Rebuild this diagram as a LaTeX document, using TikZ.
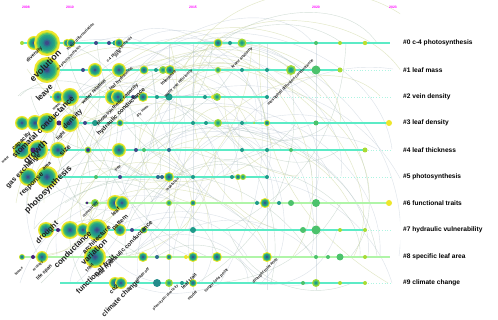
\documentclass[tikz,border=0pt]{standalone}
\usepackage{fontspec}
\setmainfont{Liberation Sans}
\definecolor{vyel}{HTML}{EEE62A}
\definecolor{vlime}{HTML}{A8DB34}
\definecolor{vgreen}{HTML}{4CC26C}
\definecolor{vteal}{HTML}{1F9A8A}
\definecolor{vblue}{HTML}{2F6C8E}
\definecolor{vind}{HTML}{3E4A89}
\definecolor{vpur}{HTML}{46247A}
\definecolor{rowline}{HTML}{5CEBC6}
\definecolor{rowlineb}{HTML}{B0F5A8}
\definecolor{yearc}{HTML}{FF00FF}
\definecolor{arcA}{HTML}{9FB8A8}
\definecolor{arcB}{HTML}{CFD8A0}
\definecolor{arcC}{HTML}{A8B8C8}
\definecolor{labc}{HTML}{202020}
\newcommand\ringnode[3]{%
  \fill[vyel] (#1,#2) circle[radius={#3pt}];
  \fill[vlime] (#1,#2) circle[radius={0.84*#3pt}];
  \fill[vgreen] (#1,#2) circle[radius={0.76*#3pt}];
  \fill[vteal!70!vgreen] (#1,#2) circle[radius={0.64*#3pt}];
  \fill[vteal] (#1,#2) circle[radius={0.52*#3pt}];
  \fill[vteal!70!vblue] (#1,#2) circle[radius={0.40*#3pt}];
  \fill[vblue] (#1,#2) circle[radius={0.28*#3pt}];
  \fill[vind] (#1,#2) circle[radius={0.16*#3pt}];}
\newcommand\gringnode[3]{%
  \fill[vlime] (#1,#2) circle[radius={#3pt}];
  \fill[vgreen] (#1,#2) circle[radius={0.7*#3pt}];
  \fill[vteal] (#1,#2) circle[radius={0.4*#3pt}];}
\newcommand\dotnode[4]{\fill[#4] (#1,#2) circle[radius={#3pt}];}
\tikzset{
  arc1/.style={draw=arcA, opacity=.45, line width=.4pt},
  arc2/.style={draw=arcB, opacity=.6, line width=.45pt},
  arc3/.style={draw=arcC, opacity=.4, line width=.4pt},
  rowl/.style={draw=rowline, line width=1.6pt},
  rowlb/.style={draw=rowlineb, line width=1.6pt},
  rowdot/.style={draw=rowline!50, line width=.8pt, dotted},
  kw/.style={rotate=45, anchor=west, inner sep=0pt, text=labc, font=\bfseries},
  clab/.style={anchor=west, inner sep=0pt, font=\bfseries\fontsize{6.6}{7}\selectfont, text=black},
  yr/.style={inner sep=0pt, text=yearc, font=\bfseries\fontsize{3.4}{4}\selectfont}
}
\newcommand\fs[1]{\fontsize{#1}{#1}\selectfont}
\begin{document}
\begin{tikzpicture}[x=1pt,y=-1pt]
\useasboundingbox (0,0) rectangle (498,320);
\fill[white] (0,0) rectangle (498,320);
% citation arcs
\begin{scope}
\clip (0,0) rectangle (400,300);
\pgfmathsetseed{11}
\foreach \i in {1,...,80}{
  \pgfmathtruncatemacro\xa{random(15,200)}
  \pgfmathtruncatemacro\xb{\xa+random(60,260)}
  \pgfmathtruncatemacro\ya{43+26.7*random(0,9)}
  \pgfmathtruncatemacro\yb{43+26.7*random(0,9)}
  \pgfmathtruncatemacro\bd{random(45,80)}
  \pgfmathtruncatemacro\cc{random(1,3)}
  \draw[arc\cc] (\xa,\ya) to[bend left=\bd] (\xb,\yb);
}
\foreach \i in {1,...,50}{
  \pgfmathtruncatemacro\xa{random(15,260)}
  \pgfmathtruncatemacro\xb{\xa+random(30,140)}
  \pgfmathtruncatemacro\ya{43+26.7*random(0,9)}
  \pgfmathtruncatemacro\yb{43+26.7*random(0,9)}
  \pgfmathtruncatemacro\bd{random(20,50)}
  \pgfmathtruncatemacro\cc{random(1,3)}
  \draw[arc\cc] (\xa,\ya) to[bend right=\bd] (\xb,\yb);
}
\foreach \vx in {169,193,267,316}{\draw[arcC, opacity=.35, line width=.4pt] (\vx,43) -- (\vx,290);}
\end{scope}
% years
\node[yr] (y08) at (26,7) {2008};
\node[yr] (y10) at (70,7) {2010};
\node[yr] (y15) at (193,7) {2015};
\node[yr] (y20) at (316,7) {2020};
\node[yr] (y23) at (393,7) {2023};
% row lines
\draw[rowl] (22,43) -- (390,43);
\draw[rowl] (45,70) -- (340,70); \draw[rowdot] (340,70) -- (392,70);
\draw[rowl] (50,97) -- (267,97); \draw[rowdot] (267,97) -- (392,97);
\draw[rowl] (22,123) -- (390,123);
\draw[rowl] (22,150) -- (365,150); \draw[rowdot] (365,150) -- (392,150);
\draw[rowl] (22,177) -- (267,177); \draw[rowdot] (267,177) -- (392,177);
\draw[rowlb] (85,203) -- (390,203);
\draw[rowl] (40,230) -- (365,230); \draw[rowdot] (365,230) -- (392,230);
\draw[rowlb] (22,257) -- (390,257);
\draw[rowl] (60,283) -- (365,283); \draw[rowdot] (365,283) -- (392,283);
% row 0
\dotnode{22}{43}{2}{vlime} \ringnode{34}{43}{7} \ringnode{47}{43}{13}
\ringnode{67}{43}{4} \ringnode{71}{43}{4.5} \dotnode{96}{43}{2}{vind} \dotnode{109}{43}{2}{vind}
\dotnode{115}{43}{2.5}{vteal} \ringnode{119}{43}{4.5} \ringnode{218}{43}{4.5} \dotnode{230}{43}{2}{vteal}
\gringnode{242}{43}{4.5} \dotnode{316}{43}{2}{vgreen} \dotnode{340}{43}{2}{vlime} \dotnode{365}{43}{2.2}{vlime!70!vyel}
% row 1
\ringnode{47}{70}{13} \dotnode{83}{70}{2}{vind} \ringnode{95}{70}{7} \ringnode{119}{70}{7}
\ringnode{144}{70}{4.5} \dotnode{156}{70}{2}{vteal} \gringnode{163}{70}{4} \ringnode{170}{70}{5}
\gringnode{218}{70}{3} \dotnode{242}{70}{2}{vteal} \dotnode{267}{70}{2}{vteal} \gringnode{291}{70}{5}
\dotnode{316}{70}{4.5}{vgreen} \dotnode{340}{70}{2.5}{vlime}
% row 2
\ringnode{58}{97}{6} \ringnode{70}{97}{9} \ringnode{113}{97}{8} \ringnode{118}{97}{7}
\dotnode{133}{97}{2}{vind} \ringnode{143}{97}{5} \dotnode{157}{97}{2}{vteal} \dotnode{169}{97}{3.5}{vteal}
\dotnode{205}{97}{2}{vteal} \dotnode{213}{97}{2}{vyel} \gringnode{217}{97}{4} \dotnode{267}{97}{2}{vteal}
% row 3
\ringnode{22}{123}{7} \ringnode{35}{123}{8} \ringnode{47}{123}{10} \dotnode{59}{123}{2.5}{vpur}
\ringnode{70}{123}{9} \dotnode{85}{123}{2}{vind} \dotnode{95}{123}{3}{vteal} \ringnode{120}{123}{3.5}
\dotnode{193}{123}{2}{vteal} \dotnode{206}{123}{2}{vteal} \gringnode{218}{123}{4} \dotnode{242}{123}{2}{vteal}
\dotnode{254}{123}{1}{vlime} \ringnode{267}{123}{3} \dotnode{316}{123}{2.5}{vgreen} \dotnode{389}{123}{3}{vyel}
% row 4
\ringnode{22}{150}{9} \ringnode{38}{150}{10} \dotnode{33}{150}{2.5}{vpur} \ringnode{58}{150}{8}
\ringnode{88}{150}{3.5} \dotnode{88}{150}{1.8}{vpur} \ringnode{119}{150}{7} \dotnode{136}{150}{2}{vind}
\dotnode{144}{150}{2}{vgreen} \dotnode{169}{150}{2}{vblue} \dotnode{242}{150}{2}{vteal}
\dotnode{267}{150}{2}{vteal} \dotnode{291}{150}{2}{vgreen} \dotnode{365}{150}{2.5}{vlime}
% row 5
\ringnode{28}{177}{9} \ringnode{47}{177}{11} \dotnode{96}{177}{2}{vgreen} \dotnode{120}{177}{2}{vind}
\dotnode{158}{177}{2}{vblue} \dotnode{162}{177}{2}{vblue} \ringnode{169}{177}{5} \dotnode{193}{177}{2}{vteal}
\dotnode{232}{177}{2}{vteal} \ringnode{238}{177}{3} \gringnode{243}{177}{3} \dotnode{267}{177}{2}{vteal}
% row 6
\dotnode{87}{203}{1.5}{vpur} \gringnode{95}{203}{4} \ringnode{115}{203}{8} \ringnode{122}{203}{7}
\gringnode{169}{203}{3} \ringnode{193}{203}{3} \dotnode{257}{203}{2}{vteal} \ringnode{265}{203}{5}
\dotnode{279}{203}{2}{vteal} \dotnode{291}{203}{3}{vgreen} \dotnode{316}{203}{4}{vgreen} \dotnode{389}{203}{3}{vyel}
% row 7
\ringnode{46}{230}{8} \dotnode{58}{230}{2}{vpur} \ringnode{70}{230}{9} \ringnode{83}{230}{7}
\ringnode{97}{230}{11} \ringnode{120}{230}{6} \dotnode{132}{230}{2}{vind} \ringnode{144}{230}{3.5}
\dotnode{193}{230}{3}{vteal} \dotnode{303}{230}{3}{vgreen} \dotnode{316}{230}{4.5}{vgreen}
\dotnode{340}{230}{2}{vlime} \dotnode{365}{230}{2}{vlime}
% row 8
\ringnode{22}{257}{3} \dotnode{33}{257}{2}{vpur} \ringnode{42}{257}{6} \ringnode{95}{257}{11}
\ringnode{143}{257}{5} \dotnode{157}{257}{2}{vblue} \ringnode{169}{257}{3} \dotnode{186}{257}{2}{vyel}
\ringnode{193}{257}{5} \ringnode{217}{257}{5} \ringnode{267}{257}{5} \dotnode{316}{257}{2}{vgreen}
\dotnode{328}{257}{2}{vgreen} \dotnode{340}{257}{3.5}{vgreen} \dotnode{365}{257}{2}{vlime}
% row 9
\ringnode{115}{283}{6} \ringnode{121}{283}{6} \dotnode{157}{283}{4}{vteal!70!vblue} \gringnode{169}{283}{4}
\dotnode{182}{283}{2}{vteal} \ringnode{193}{283}{4} \dotnode{303}{283}{2}{vgreen} \gringnode{316}{283}{4}
\dotnode{340}{283}{2}{vlime} \dotnode{365}{283}{2}{vlime}
% keyword labels
\node[kw, font=\bfseries\fs{5}] (k1) at (27,62) {diversity};
\node[kw, font=\bfseries\fs{9}] (k2) at (31,80) {evolution};
\node[kw, font=\bfseries\fs{3.8}] (k3) at (67,50) {tissue differentiation};
\node[kw, font=\bfseries\fs{3.6}] (k4) at (57,70) {c-4 photosynthesis};
\node[kw, font=\bfseries\fs{3.8}] (k5) at (107,62) {c-4 photosynthesis};
\node[kw, font=\bfseries\fs{3.6}] (k6) at (115,57) {yield};
\node[kw, font=\bfseries\fs{8}] (k7) at (37,100) {leave};
\node[kw, font=\bfseries\fs{3.6}] (k8) at (53,110) {water};
\node[kw, font=\bfseries\fs{5}] (k9) at (82,103) {water relation};
\node[kw, font=\bfseries\fs{4.5}] (k10) at (110,90) {leaf hydraulics};
\node[kw, font=\bfseries\fs{5}] (k11) at (97,125) {photosynthetic capacity};
\node[kw, font=\bfseries\fs{6}] (k12) at (98,135) {hydraulic conductance};
\node[kw, font=\bfseries\fs{3.5}] (k13) at (137,117) {dry mass};
\node[kw, font=\bfseries\fs{4.5}] (k14) at (161,85) {tolerance};
\node[kw, font=\bfseries\fs{4}] (k15) at (165,97) {water use efficiency};
\node[kw, font=\bfseries\fs{6}] (k16) at (13,150) {capacity};
\node[kw, font=\bfseries\fs{8}] (k17) at (13,157) {stomatal conductance};
\node[kw, font=\bfseries\fs{3.5}] (k18) at (2,163) {water};
\node[kw, font=\bfseries\fs{9}] (k19) at (25,163) {growth};
\node[kw, font=\bfseries\fs{5}] (k20) at (57,140) {light};
\node[kw, font=\bfseries\fs{7}] (k21) at (64,128) {density};
\node[kw, font=\bfseries\fs{7}] (k22) at (60,155) {size};
\node[kw, font=\bfseries\fs{7}] (k23) at (7,187) {gas exchange};
\node[kw, font=\bfseries\fs{5}] (k24) at (43,170) {area};
\node[kw, font=\bfseries\fs{7}] (k25) at (21,196) {response};
\node[kw, font=\bfseries\fs{8.5}] (k26) at (26,212) {photosynthesis};
\node[kw, font=\bfseries\fs{4}] (k27) at (115,171) {tree};
\node[kw, font=\bfseries\fs{3.5}] (k28) at (166,191) {vegetation};
\node[kw, font=\bfseries\fs{3.8}] (k29) at (83,217) {community};
\node[kw, font=\bfseries\fs{5.5}] (k30) at (112,215) {leaf};
\node[kw, font=\bfseries\fs{7.5}] (k31) at (37,243) {drought};
\node[kw, font=\bfseries\fs{5}] (k32) at (37,280) {life span};
\node[kw, font=\bfseries\fs{8}] (k33) at (55,267) {conductance};
\node[kw, font=\bfseries\fs{6.5}] (k34) at (83,253) {architecture};
\node[kw, font=\bfseries\fs{6}] (k35) at (113,230) {pattern};
\node[kw, font=\bfseries\fs{8}] (k36) at (82,264) {variation};
\node[kw, font=\bfseries\fs{5}] (k37) at (86,271) {trait};
\node[kw, font=\bfseries\fs{6}] (k38) at (97,277) {leaf hydraulic conductance};
\node[kw, font=\bfseries\fs{7.5}] (k39) at (77,293) {functional trait};
\node[kw, font=\bfseries\fs{3.5}] (k40) at (15,275) {biome};
\node[kw, font=\bfseries\fs{3.5}] (k41) at (33,271) {ecology};
\node[kw, font=\bfseries\fs{4}] (k42) at (137,280) {trade off};
\node[kw, font=\bfseries\fs{3.5}] (k43) at (153,310) {phenotypic plasticity};
\node[kw, font=\bfseries\fs{5}] (k44) at (182,288) {leaf trait};
\node[kw, font=\bfseries\fs{4}] (k45) at (188,300) {model};
\node[kw, font=\bfseries\fs{4}] (k46) at (205,292) {turgor loss point};
\node[kw, font=\bfseries\fs{4}] (k47) at (253,283) {drought tolerance};
\node[kw, font=\bfseries\fs{7}] (k48) at (103,316) {climate change};
\node[kw, font=\bfseries\fs{6}] (k49) at (110,293) {co2};
\node[kw, font=\bfseries\fs{4}] (k50) at (232,68) {kranz anatomy};
\node[kw, font=\bfseries\fs{4}] (k51) at (268,105) {mesophyll diffusion conductance};
% cluster labels
\node[clab] (c0) at (403,43) {\#0 c-4 photosynthesis};
\node[clab] (c1) at (403,70) {\#1 leaf mass};
\node[clab] (c2) at (403,97) {\#2 vein density};
\node[clab] (c3) at (403,123) {\#3 leaf density};
\node[clab] (c4) at (403,150) {\#4 leaf thickness};
\node[clab] (c5) at (403,177) {\#5 photosynthesis};
\node[clab] (c6) at (403,203) {\#6 functional traits};
\node[clab] (c7) at (403,230) {\#7 hydraulic vulnerability};
\node[clab] (c8) at (403,257) {\#8 specific leaf area};
\node[clab] (c9) at (403,283) {\#9 climate change};
\end{tikzpicture}
\end{document}
